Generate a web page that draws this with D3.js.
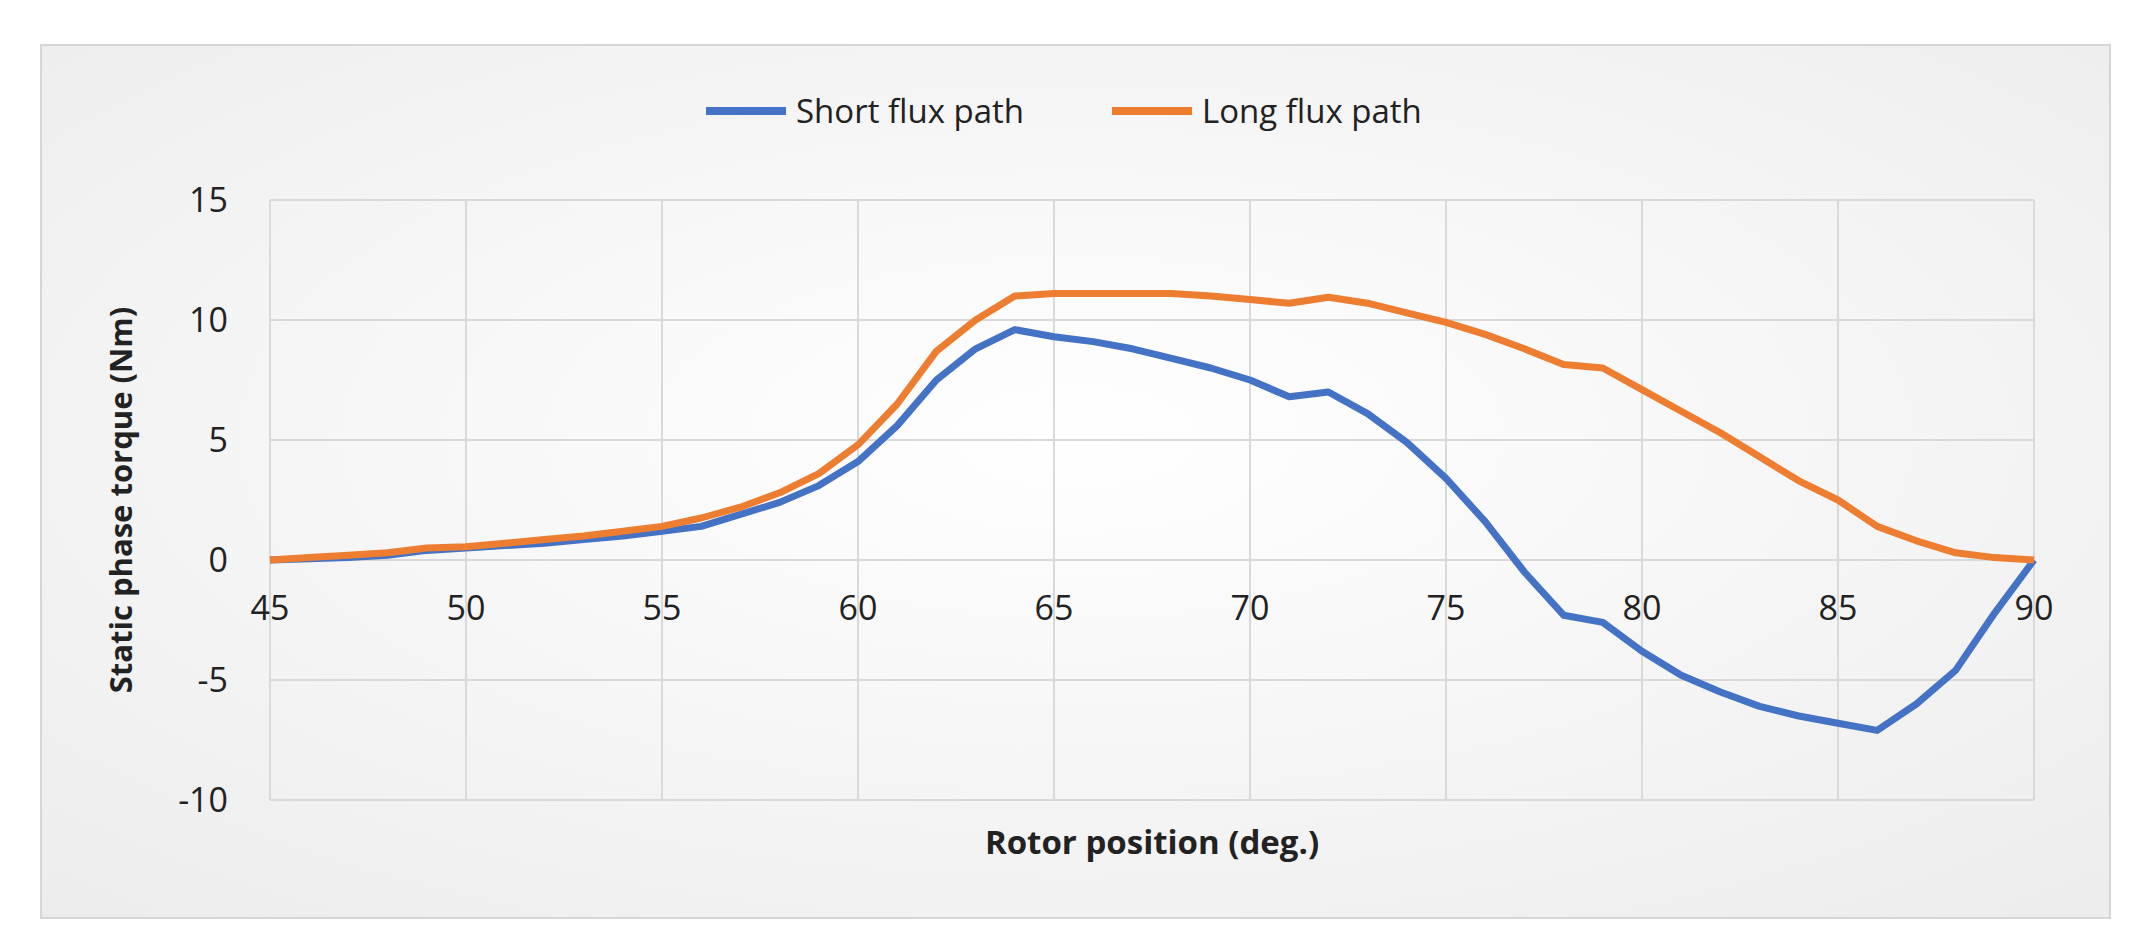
<!DOCTYPE html><html><head><meta charset="utf-8"><script src="https://cdn.jsdelivr.net/npm/d3@7"></script>
<style>body{margin:0;background:#fff}text{font-family:"Open Sans",sans-serif;fill:#222}</style></head><body><svg id="c" width="2146" height="944"></svg><script>
const xs=[45,46,47,48,49,50,51,52,53,54,55,56,57,58,59,60,61,62,63,64,65,66,67,68,69,70,71,72,73,74,75,76,77,78,79,80,81,82,83,84,85,86,87,88,89,90];
const shortFlux=[0,0.05,0.1,0.2,0.4,0.5,0.6,0.7,0.85,1.0,1.2,1.4,1.9,2.4,3.1,4.1,5.6,7.5,8.8,9.6,9.3,9.1,8.8,8.4,8.0,7.5,6.8,7.0,6.1,4.9,3.4,1.6,-0.5,-2.3,-2.6,-3.8,-4.8,-5.5,-6.1,-6.5,-6.8,-7.1,-6.0,-4.6,-2.2,0];
const longFlux=[0,0.1,0.2,0.3,0.5,0.55,0.7,0.85,1.0,1.2,1.4,1.75,2.2,2.8,3.6,4.8,6.5,8.7,10.0,11.0,11.1,11.1,11.1,11.1,11.0,10.85,10.7,10.95,10.7,10.3,9.9,9.4,8.8,8.15,8.0,7.1,6.2,5.3,4.3,3.3,2.5,1.4,0.8,0.3,0.1,0];
const xTicks=[45,50,55,60,65,70,75,80,85,90];
const yTicks=[-10,-5,0,5,10,15];
const series=[{name:"Short flux path",v:shortFlux,c:"#4472C4"},{name:"Long flux path",v:longFlux,c:"#ED7D31"}];
const svg=d3.select("#c");
const defs=svg.append("defs");const g=defs.append("radialGradient").attr("id","bg").attr("cx","50%").attr("cy","45%").attr("r","75%");
g.append("stop").attr("offset","0%").attr("stop-color","#ffffff");g.append("stop").attr("offset","100%").attr("stop-color","#ececec");
svg.append("rect").attr("x",41).attr("y",45).attr("width",2069).attr("height",873).attr("fill","url(#bg)").attr("stroke","#d6d6d6").attr("stroke-width",2);
const x=d3.scaleLinear().domain([45,90]).range([270,2034]);
const y=d3.scaleLinear().domain([-10,15]).range([800,200]);
const grid=svg.append("g");
grid.selectAll(".h").data(yTicks).join("line").attr("x1",x(45)).attr("x2",x(90)).attr("y1",d=>y(d)).attr("y2",d=>y(d)).attr("stroke","#d9d9d9").attr("stroke-width",2);
grid.selectAll(".v").data(xTicks).join("line").attr("y1",y(-10)).attr("y2",y(15)).attr("x1",d=>x(d)).attr("x2",d=>x(d)).attr("stroke","#d9d9d9").attr("stroke-width",2);
svg.append("g").selectAll("text").data(yTicks).join("text").attr("x",228).attr("y",d=>y(d)).attr("dy","0.35em").attr("text-anchor","end").attr("font-size",34).text(d=>d);
svg.append("g").selectAll("text").data(xTicks).join("text").attr("x",d=>x(d)).attr("y",y(0)+60).attr("text-anchor","middle").attr("font-size",34).text(d=>d);
const line=d3.line().x((d,i)=>x(xs[i])).y(d=>y(d));
series.forEach(s=>svg.append("path").attr("d",line(s.v)).attr("fill","none").attr("stroke",s.c).attr("stroke-width",7).attr("stroke-linejoin","round"));
svg.append("text").attr("x",x(67.5)).attr("y",854).attr("text-anchor","middle").attr("font-size",33).attr("font-weight","bold").text("Rotor position  (deg.)");
svg.append("text").attr("transform",`translate(132,${y(2.5)}) rotate(-90)`).attr("text-anchor","middle").attr("font-size",31).attr("font-weight","bold").text("Static phase  torque (Nm)");
const lg=svg.append("g");
const lx=[706,1112];
series.forEach((s,i)=>{lg.append("line").attr("x1",lx[i]).attr("x2",lx[i]+80).attr("y1",111).attr("y2",111).attr("stroke",s.c).attr("stroke-width",8);
lg.append("text").attr("x",lx[i]+90).attr("y",111).attr("dy","0.35em").attr("font-size",33).text(s.name);});
</script></body></html>
